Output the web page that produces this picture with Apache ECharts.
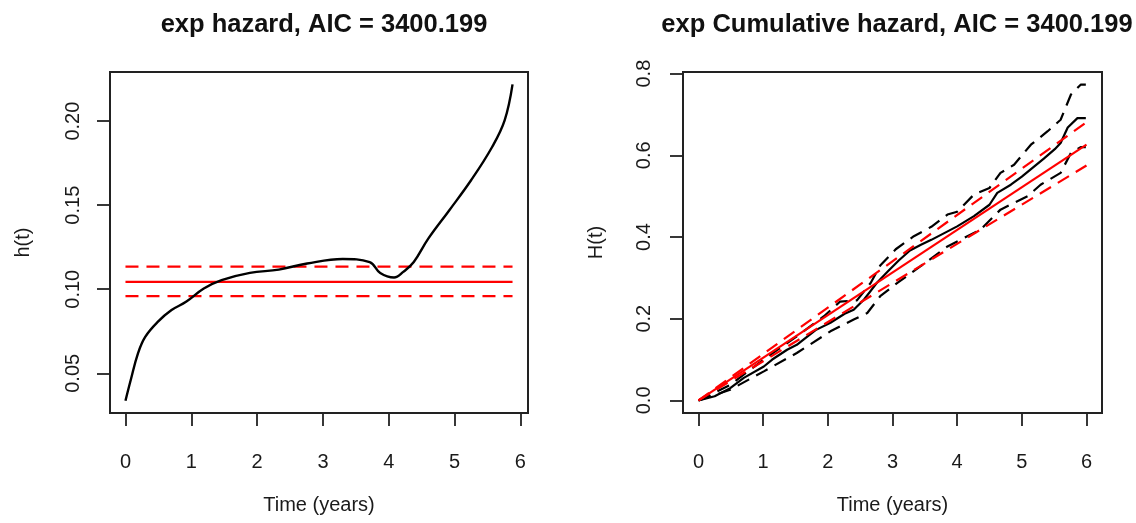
<!DOCTYPE html>
<html>
<head>
<meta charset="utf-8">
<script src="https://cdn.jsdelivr.net/npm/echarts@6/dist/echarts.min.js"></script>
<style>
html,body{margin:0;padding:0;background:#fff;}
#chart{width:1136px;height:523px;}
</style>
</head>
<body>
<div id="chart"></div>
<script>
// ---------- Data ----------
const xTicks = [0, 1, 2, 3, 4, 5, 6];
const hazardYTicks = [0.05, 0.10, 0.15, 0.20];
const cumYTicks = [0.0, 0.2, 0.4, 0.6, 0.8];

// Left panel: smoothed hazard h(t)
const hazardTime = [0, 0.08, 0.19, 0.30, 0.49, 0.70, 0.92, 1.19, 1.46, 1.89, 2.33, 2.76, 3.30, 3.71, 3.87, 4.08, 4.22, 4.38, 4.60, 4.92, 5.25, 5.57, 5.76, 5.88];
const hazardValue = [0.0337, 0.046, 0.0619, 0.0717, 0.0806, 0.0876, 0.0925, 0.1004, 0.1054, 0.1097, 0.1117, 0.1153, 0.1180, 0.1161, 0.1097, 0.1070, 0.1103, 0.1162, 0.1301, 0.147, 0.1648, 0.1846, 0.2004, 0.2218];

// Exponential model hazard (constant) with CI
const expTimeRange = [0, 5.88];
const expHazardEst = 0.1044;
const expHazardUpper = 0.1135;
const expHazardLower = 0.0959;

// Right panel: nonparametric cumulative hazard H(t) with CI
const cumTime = [0, 0.25, 0.49, 0.70, 1.01, 1.14, 1.37, 1.52, 1.81, 2.04, 2.26, 2.40, 2.56, 2.77, 2.93, 3.10, 3.27, 3.44, 3.60, 3.83, 4.00, 4.26, 4.50, 4.62, 4.83, 5.00, 5.17, 5.34, 5.51, 5.60, 5.71, 5.86, 5.99];
const cumValue = [0, 0.010, 0.030, 0.055, 0.083, 0.100, 0.124, 0.136, 0.172, 0.190, 0.212, 0.222, 0.247, 0.290, 0.316, 0.343, 0.367, 0.381, 0.393, 0.412, 0.426, 0.451, 0.479, 0.508, 0.528, 0.548, 0.570, 0.592, 0.615, 0.630, 0.668, 0.691, 0.691];

const cumUpperTime = [0, 0.49, 1.01, 1.52, 1.94, 2.19, 2.45, 2.66, 2.81, 3.05, 3.33, 3.60, 3.85, 4.00, 4.26, 4.50, 4.67, 4.88, 5.14, 5.40, 5.60, 5.76, 5.91, 5.99];
const cumUpperValue = [0, 0.038, 0.100, 0.157, 0.206, 0.242, 0.245, 0.287, 0.330, 0.370, 0.402, 0.425, 0.455, 0.462, 0.504, 0.520, 0.557, 0.577, 0.626, 0.659, 0.687, 0.749, 0.773, 0.773];

const cumLowerTime = [0, 0.49, 1.01, 1.52, 2.04, 2.40, 2.61, 2.81, 3.07, 3.43, 3.85, 4.36, 4.67, 5.09, 5.29, 5.60, 5.76, 5.91, 5.99];
const cumLowerValue = [0, 0.026, 0.071, 0.116, 0.169, 0.198, 0.214, 0.255, 0.287, 0.328, 0.377, 0.418, 0.467, 0.500, 0.528, 0.557, 0.606, 0.620, 0.620];

// Exponential model cumulative hazard lines (endpoints)
const expCumTime = [0, 6];
const expCumEst = [0, 0.626];
const expCumUpper = [0, 0.681];
const expCumLower = [0, 0.575];

// ---------- Helpers ----------
const zip = (a, b) => a.map((v, i) => [v, b[i]]);
const FONT = "'Liberation Sans', Arial, Helvetica, sans-serif";
const DASH = [13, 8];

function xAxisCfg(gridIndex, min, max) {
  return {
    type: 'value', gridIndex, min, max,
    name: 'Time (years)', nameLocation: 'middle', nameGap: 82,
    nameTextStyle: { fontFamily: FONT, fontSize: 20, color: '#1a1a1a' },
    axisLine: { show: false, onZero: false },
    splitLine: { show: false },
    axisTick: { show: true, length: 13, customValues: xTicks, lineStyle: { color: '#222', width: 1.8 } },
    axisLabel: { customValues: xTicks, margin: 39, fontFamily: FONT, fontSize: 20, color: '#1a1a1a' }
  };
}
function yAxisCfg(gridIndex, min, max, ticks, dec, name, margin) {
  return {
    type: 'value', gridIndex, min, max,
    name, nameLocation: 'middle', nameGap: 77,
    nameTextStyle: { fontFamily: FONT, fontSize: 20, color: '#1a1a1a' },
    axisLine: { show: false, onZero: false },
    splitLine: { show: false },
    axisTick: { show: true, length: 13, customValues: ticks, lineStyle: { color: '#222', width: 1.8 } },
    axisLabel: { customValues: ticks, rotate: 90, margin, fontFamily: FONT, fontSize: 20, color: '#1a1a1a',
      formatter: v => Number(v).toFixed(dec) }
  };
}
function line(xi, yi, data, color, dashed, smooth, width) {
  return {
    type: 'line', xAxisIndex: xi, yAxisIndex: yi, data, showSymbol: false, symbol: 'none',
    smooth: smooth || false, silent: true, animation: false,
    lineStyle: { color, width: width || 2.2, type: dashed ? DASH : 'solid' }
  };
}

const chart = echarts.init(document.getElementById('chart'), null, { renderer: 'canvas' });
chart.setOption({
  animation: false,
  backgroundColor: '#fff',
  title: [
    { text: 'exp hazard, AIC = 3400.199', left: 319, top: 7, textAlign: 'center',
      textStyle: { fontFamily: FONT, fontSize: 25.5, fontWeight: 'bold', color: '#111' } },
    { text: 'exp Cumulative hazard, AIC = 3400.199', left: 892, top: 7, textAlign: 'center',
      textStyle: { fontFamily: FONT, fontSize: 25.5, fontWeight: 'bold', color: '#111' } }
  ],
  grid: [
    { left: 110, right: 608, top: 72, bottom: 110, show: true, borderColor: '#222', borderWidth: 2, backgroundColor: 'transparent' },
    { left: 683, right: 34, top: 72, bottom: 110, show: true, borderColor: '#222', borderWidth: 2, backgroundColor: 'transparent' }
  ],
  xAxis: [
    xAxisCfg(0, -0.235, 6.115),
    xAxisCfg(1, -0.24, 6.24)
  ],
  yAxis: [
    yAxisCfg(0, 0.0264, 0.2292, hazardYTicks, 2, 'h(t)', 27),
    yAxisCfg(1, -0.0309, 0.804, cumYTicks, 1, 'H(t)', 29)
  ],
  series: [
    line(0, 0, zip(expTimeRange, [expHazardEst, expHazardEst]), '#ff0000', false),
    line(0, 0, zip(expTimeRange, [expHazardUpper, expHazardUpper]), '#ff0000', true),
    line(0, 0, zip(expTimeRange, [expHazardLower, expHazardLower]), '#ff0000', true),
    line(0, 0, zip(hazardTime, hazardValue), '#000', false, 0.4, 2.4),
    line(1, 1, zip(cumUpperTime, cumUpperValue), '#000', true),
    line(1, 1, zip(cumLowerTime, cumLowerValue), '#000', true),
    line(1, 1, zip(cumTime, cumValue), '#000', false),
    line(1, 1, zip(expCumTime, expCumEst), '#ff0000', false),
    line(1, 1, zip(expCumTime, expCumUpper), '#ff0000', true),
    line(1, 1, zip(expCumTime, expCumLower), '#ff0000', true)
  ]
});
</script>
</body>
</html>
